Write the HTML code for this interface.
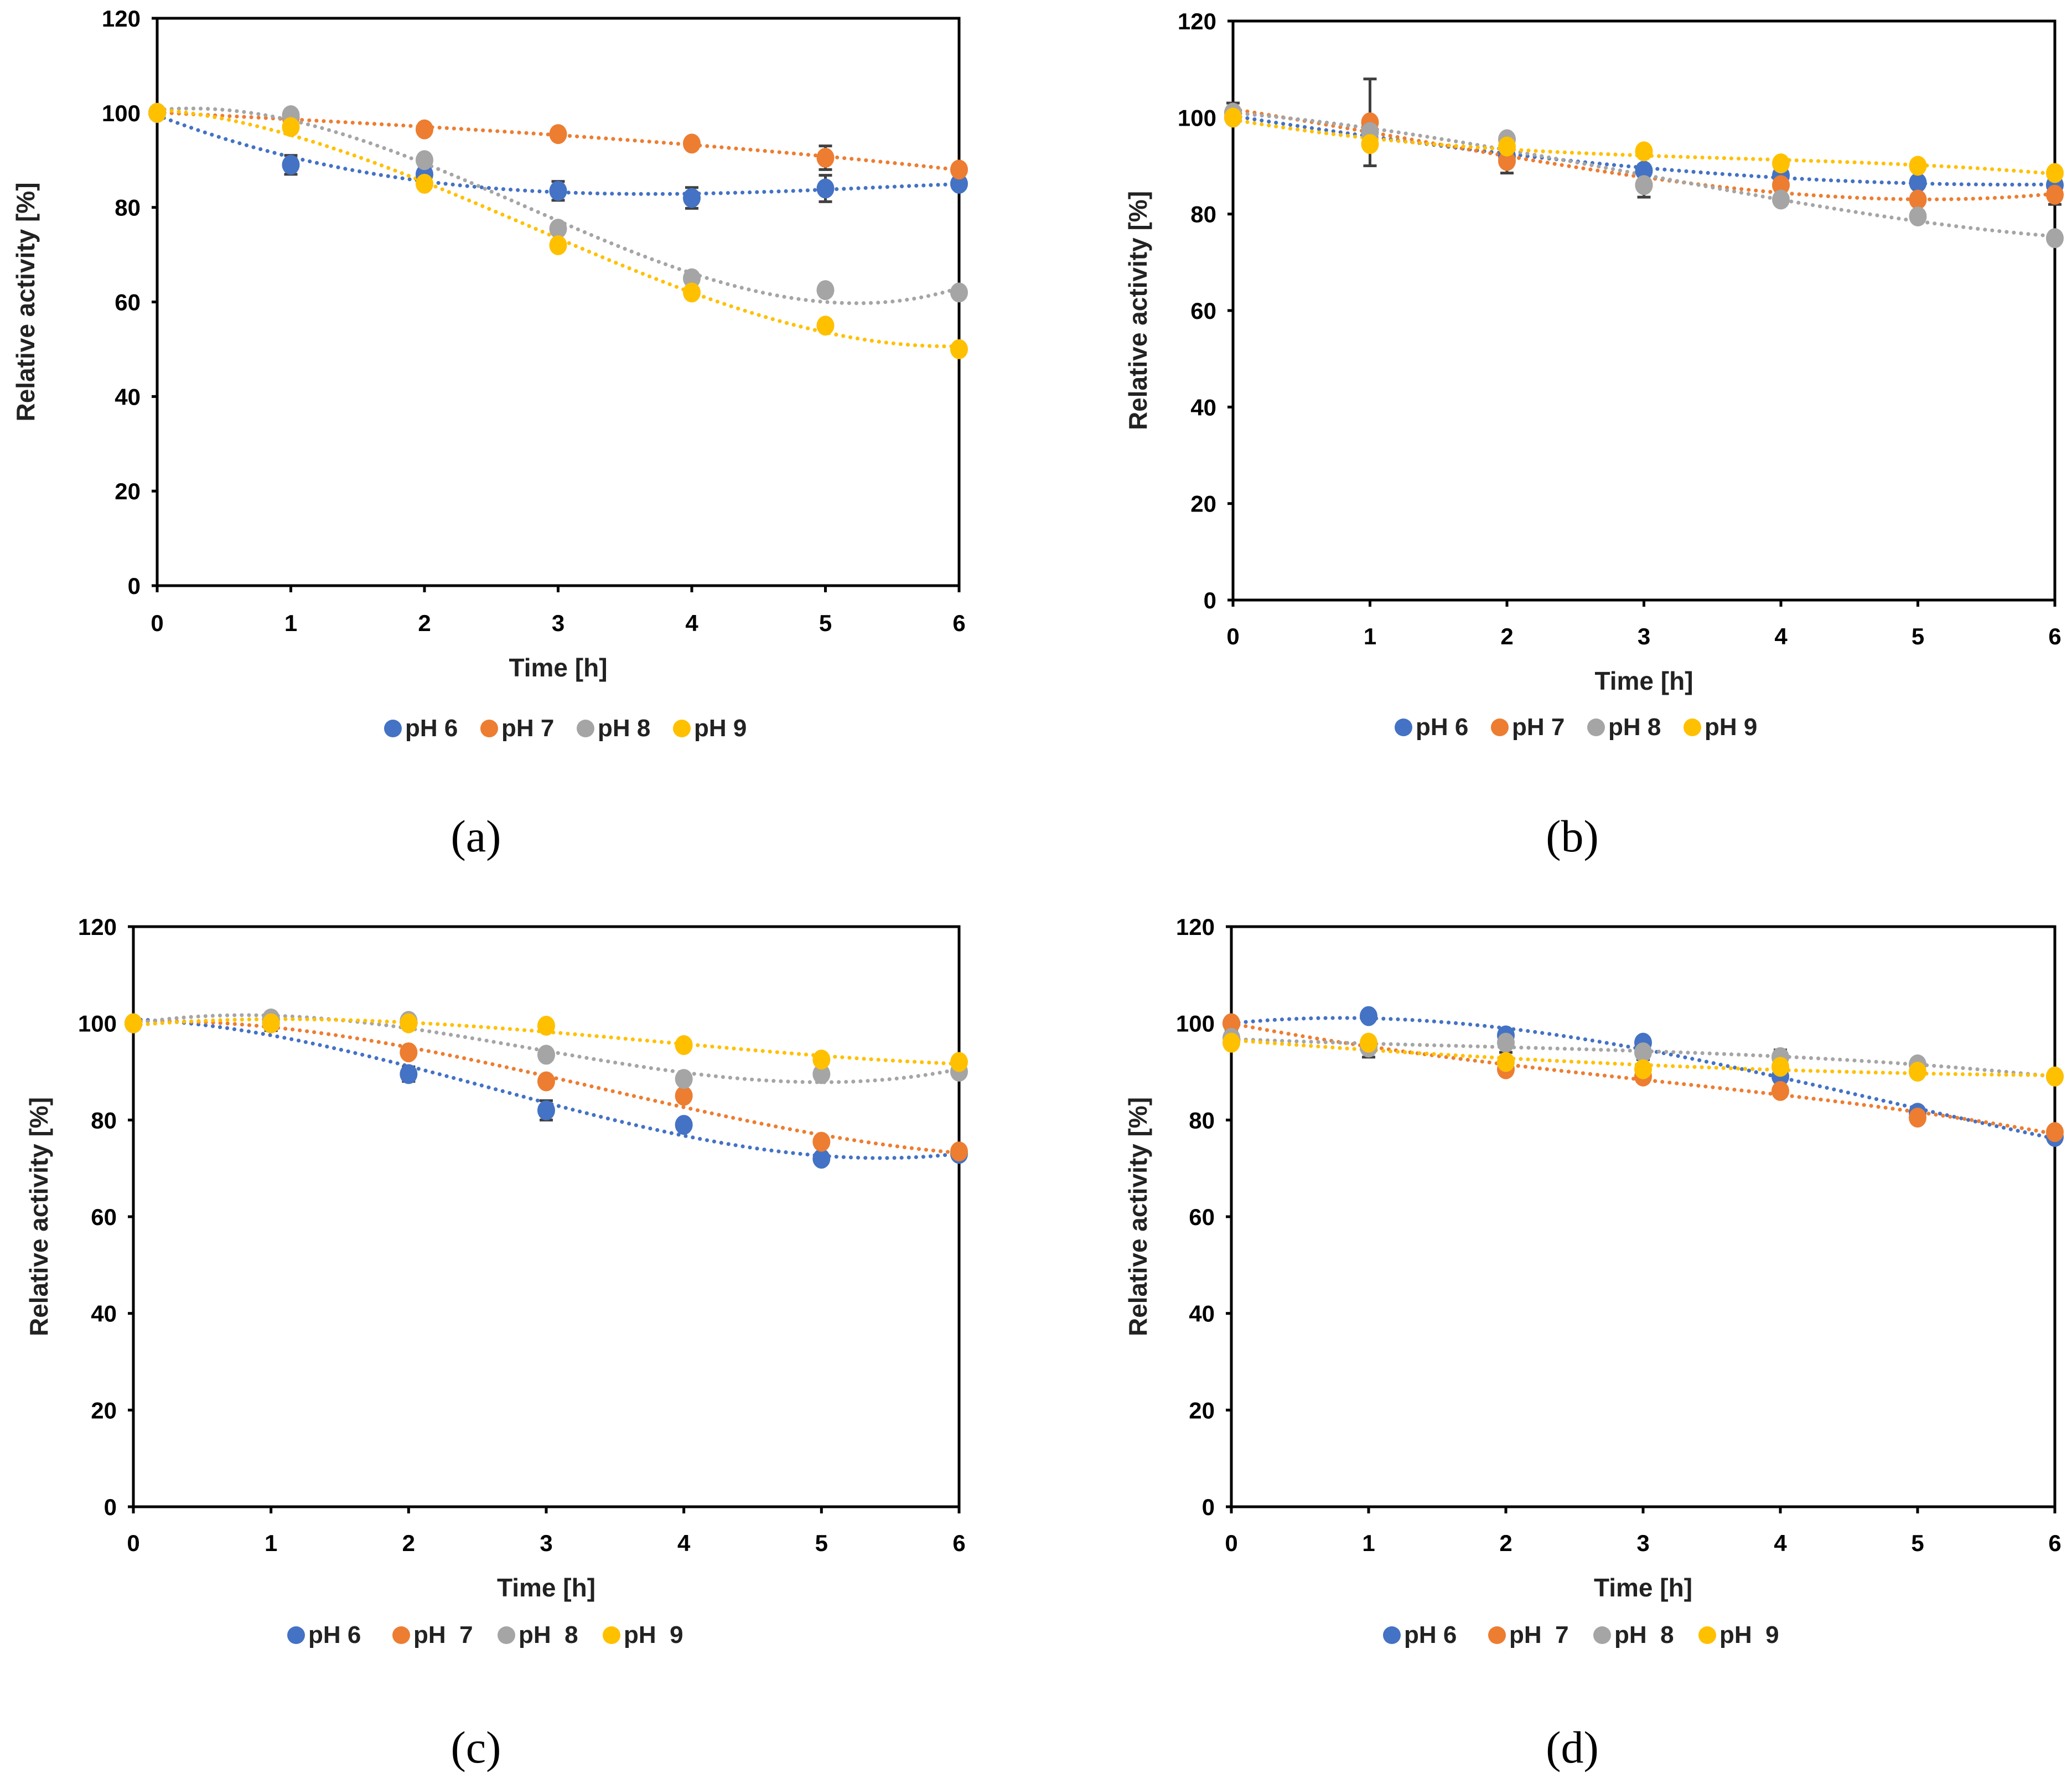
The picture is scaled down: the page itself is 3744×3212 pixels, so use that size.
<!DOCTYPE html>
<html><head><meta charset="utf-8"><style>
html,body{margin:0;padding:0;background:#fff}
svg{display:block}
text{font-family:"Liberation Sans",sans-serif}
.pre{white-space:pre}
</style></head><body>
<svg id="fig" width="3744" height="3212" viewBox="0 0 3744 3212" xmlns="http://www.w3.org/2000/svg"></svg>
<script>
const times=[0,1,2,3,4,5,6];
const yTicks=[0,20,40,60,80,100,120];
const seriesNames=["pH 6","pH 7","pH 8","pH 9"];
const seriesNamesCD=["pH 6","pH  7","pH  8","pH  9"];
const colors=["#4472C4","#ED7D31","#A5A5A5","#FFC000"];
// panel a
const a_pH6=[100,89,87,83.5,82,84,85];
const a_pH7=[100,99,96.5,95.5,93.5,90.5,88];
const a_pH8=[100,99.5,90,75.5,65,62.5,62];
const a_pH9=[100,97,85,72,62,55,50];
const a_err6=[0,2,0,2,2.2,2.8,0];
const a_err7=[0,0,0,0,0,2.5,0];
// panel b
const b_pH6=[100,97,92,89,88,86.5,86];
const b_pH7=[101,99,91,86,86,83,84];
const b_pH8=[101,97,95.5,86,83,79.5,75];
const b_pH9=[100,94.5,94,93,90.5,90,88.5];
const b_err7=[2,9,2.5,2.5,3,2.5,2];
// panel c
const c_pH6=[100,100,89.5,82,79,72,73];
const c_pH7=[100,100.5,94,88,85,75.5,73.5];
const c_pH8=[100,101,100.5,93.5,88.5,89.5,90];
const c_pH9=[100,100,100,99.5,95.5,92.5,92];
const c_err6=[0,1.5,1.5,2,0,0,0];
// panel d
const d_pH6=[100,101.5,97.5,96,89,81.5,76.5];
const d_pH7=[100,95.5,90.5,89,86,80.5,77.5];
const d_pH8=[97,95,96,94,93,91.5,89];
const d_pH9=[96,96,92,90.5,91,90,89];
const d_err8=[1.5,2,2,1.5,1.5,1,1];

const NS="http://www.w3.org/2000/svg";
const fig=document.getElementById('fig');
function el(tag,attrs,parent){const e=document.createElementNS(NS,tag);for(const k in attrs)e.setAttribute(k,attrs[k]);(parent||fig).appendChild(e);return e;}

function polyfit(x,y,deg){
  const n=deg+1;const A=[];for(let i=0;i<n;i++){A.push(new Array(n+1).fill(0));}
  for(let k=0;k<x.length;k++){for(let i=0;i<n;i++){for(let j=0;j<n;j++)A[i][j]+=Math.pow(x[k],i+j);A[i][n]+=y[k]*Math.pow(x[k],i);}}
  for(let i=0;i<n;i++){let p=i;for(let r=i+1;r<n;r++)if(Math.abs(A[r][i])>Math.abs(A[p][i]))p=r;[A[i],A[p]]=[A[p],A[i]];
    for(let r=0;r<n;r++){if(r===i)continue;const f=A[r][i]/A[i][i];for(let c=i;c<=n;c++)A[r][c]-=f*A[i][c];}}
  return A.map((r,i)=>r[n]/r[i]);
}

function panel(cfg){
  const g=el('g',{});
  
  
  const X=v=>cfg.L+(cfg.R-cfg.L)*v/6;
  const Y=v=>cfg.B-(cfg.B-cfg.T)*v/120;
  const frame=el('rect',{x:cfg.L,y:cfg.T,width:cfg.R-cfg.L,height:cfg.B-cfg.T,fill:'none',stroke:'#000','stroke-width':5},g);
  
  
  yTicks.forEach(t=>{
    el('line',{x1:cfg.L-10,x2:cfg.L,y1:Y(t),y2:Y(t),stroke:'#000','stroke-width':5},g);
    const tx=el('text',{x:cfg.L-30,y:Y(t)+15,'text-anchor':'end','font-size':42,'font-weight':'bold',fill:'#000'},g);
    tx.textContent=t;
    
    
  });
  times.forEach(t=>{
    el('line',{x1:X(t),x2:X(t),y1:cfg.B,y2:cfg.B+12,stroke:'#000','stroke-width':5},g);
    const tx=el('text',{x:X(t),y:cfg.xl,'text-anchor':'middle','font-size':42,'font-weight':'bold',fill:'#000'},g);
    tx.textContent=t;
    
    
  });
  const xt=el('text',{x:(cfg.L+cfg.R)/2,y:cfg.xt,'text-anchor':'middle','font-size':46,'font-weight':'bold',fill:'#222'},g);
  xt.textContent='Time [h]';
  
  
  const yt=el('text',{x:0,y:0,'text-anchor':'middle','font-size':46,'font-weight':'bold',fill:'#222',transform:`translate(${cfg.yx},${(cfg.T+cfg.B)/2}) rotate(-90)`},g);
  yt.textContent='Relative activity [%]';
  
  
  cfg.series.forEach((s,i)=>{
    const c=polyfit(times,s,3);let d='';
    for(let k=0;k<=120;k++){const t=6*k/120;const v=c[0]+c[1]*t+c[2]*t*t+c[3]*t*t*t;d+=(k?'L':'M')+X(t).toFixed(1)+','+Y(v).toFixed(1);}
    const p=el('path',{d:d,fill:'none',stroke:colors[i],'stroke-width':7,'stroke-dasharray':'0.1 13','stroke-linecap':'round'},g);
    
    
  });
  cfg.errs.forEach(([si,e])=>{
    const s=cfg.series[si];
    s.forEach((v,k)=>{if(!e[k])return;
      const eb=el('g',{stroke:'#404040','stroke-width':5},g);
      
      
      el('line',{x1:X(k),x2:X(k),y1:Y(v-e[k]),y2:Y(v+e[k])},eb);
      el('line',{x1:X(k)-12,x2:X(k)+12,y1:Y(v-e[k]),y2:Y(v-e[k])},eb);
      el('line',{x1:X(k)-12,x2:X(k)+12,y1:Y(v+e[k]),y2:Y(v+e[k])},eb);
    });
  });
  cfg.series.forEach((s,i)=>{
    s.forEach((v,k)=>{
      const c=el('ellipse',{cx:X(k),cy:Y(v),rx:16,ry:18,fill:colors[i]},g);
      
      
    });
  });
  const lg=el('g',{},g);
  
  
  let x=cfg.lx;
  cfg.names.forEach((n,i)=>{
    const e=el('g',{},lg);
    
    
    el('circle',{cx:x,cy:cfg.ly-14,r:16,fill:colors[i]},e);
    const t=el('text',{x:x+22,y:cfg.ly,'font-size':44,'font-weight':'bold',fill:'#222','class':'pre'},e);
    t.textContent=n;
    x+=cfg.ls;
  });
  const cap=el('text',{x:cfg.cx,y:cfg.cy,'text-anchor':'middle','font-size':82,fill:'#000'},g);
  cap.setAttribute('style','font-family:"Liberation Serif",serif');
  cap.textContent='('+cfg.id+')';
  
  
}

panel({id:'a',L:284,R:1733,T:33,B:1058,xl:1140,xt:1222,yx:62,lx:710,ly:1330,ls:174,cx:860,cy:1538,names:seriesNames,
  series:[a_pH6,a_pH7,a_pH8,a_pH9],errs:[[0,a_err6],[1,a_err7]]});
panel({id:'b',L:2228,R:3713,T:38,B:1084,xl:1164,xt:1246,yx:2072,lx:2536,ly:1328,ls:174,cx:2841,cy:1538,names:seriesNames,
  series:[b_pH6,b_pH7,b_pH8,b_pH9],errs:[[1,b_err7]]});
panel({id:'c',L:241,R:1733,T:1674,B:2722,xl:2802,xt:2884,yx:86,lx:535,ly:2968,ls:190,cx:860,cy:3184,names:seriesNamesCD,
  series:[c_pH6,c_pH7,c_pH8,c_pH9],errs:[[0,c_err6]]});
panel({id:'d',L:2225,R:3713,T:1674,B:2722,xl:2802,xt:2884,yx:2072,lx:2515,ly:2968,ls:190,cx:2841,cy:3184,names:seriesNamesCD,
  series:[d_pH6,d_pH7,d_pH8,d_pH9],errs:[[2,d_err8]]});
</script>
</body></html>
